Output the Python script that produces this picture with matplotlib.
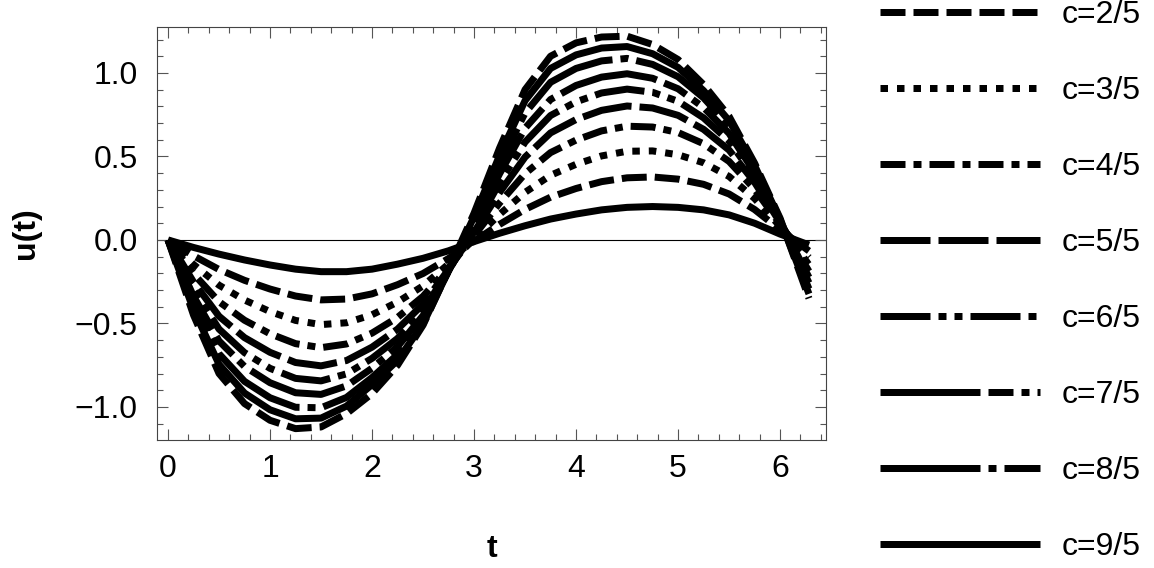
import matplotlib
matplotlib.use('Agg')
import matplotlib.pyplot as plt
from matplotlib.ticker import MultipleLocator

plt.rcParams['font.family'] = ['Liberation Sans', 'DejaVu Sans']
plt.rcParams['lines.scale_dashes'] = False

# sample times (last one is 2*pi)
t = [0, 0.25, 0.5, 0.75, 1.0, 1.25, 1.5, 1.75, 2.0, 2.25, 2.5, 2.75, 3.0,
     3.25, 3.5, 3.75, 4.0, 4.25, 4.5, 4.75, 5.0, 5.25, 5.5, 5.75, 6.0, 6.283]

u1 = [0, -0.045, -0.085, -0.12, -0.15, -0.175, -0.19, -0.19, -0.175, -0.145, -0.11, -0.065, -0.01,
      0.04, 0.085, 0.125, 0.155, 0.18, 0.195, 0.2, 0.195, 0.18, 0.15, 0.1, 0.035, -0.03]
u2 = [0, -0.095, -0.177, -0.242, -0.294, -0.336, -0.359, -0.354, -0.323, -0.268, -0.201, -0.111, -0.007,
      0.093, 0.183, 0.256, 0.308, 0.349, 0.372, 0.377, 0.364, 0.333, 0.275, 0.182, 0.061, -0.066]
u3 = [0, -0.147, -0.271, -0.360, -0.429, -0.482, -0.507, -0.496, -0.448, -0.372, -0.275, -0.144, 0.005,
      0.153, 0.285, 0.387, 0.453, 0.503, 0.531, 0.533, 0.510, 0.462, 0.380, 0.248, 0.081, -0.105]
u4 = [0, -0.203, -0.370, -0.481, -0.562, -0.621, -0.645, -0.623, -0.558, -0.464, -0.338, -0.166, 0.025,
      0.221, 0.397, 0.523, 0.598, 0.653, 0.681, 0.676, 0.643, 0.576, 0.470, 0.304, 0.095, -0.149]
u5 = [0, -0.252, -0.457, -0.585, -0.673, -0.734, -0.754, -0.722, -0.642, -0.534, -0.385, -0.177, 0.047,
      0.284, 0.496, 0.641, 0.721, 0.776, 0.802, 0.790, 0.746, 0.662, 0.538, 0.345, 0.104, -0.188]
u6 = [0, -0.297, -0.534, -0.675, -0.769, -0.829, -0.844, -0.802, -0.709, -0.590, -0.422, -0.183, 0.070,
      0.342, 0.586, 0.745, 0.827, 0.880, 0.903, 0.884, 0.830, 0.731, 0.592, 0.377, 0.110, -0.224]
u7 = [0, -0.337, -0.605, -0.758, -0.855, -0.915, -0.925, -0.874, -0.768, -0.639, -0.453, -0.187, 0.091,
      0.396, 0.669, 0.841, 0.925, 0.975, 0.995, 0.968, 0.905, 0.793, 0.638, 0.404, 0.115, -0.257]
u8 = [0, -0.382, -0.682, -0.847, -0.945, -1.002, -1.005, -0.943, -0.824, -0.686, -0.482, -0.186, 0.117,
      0.456, 0.760, 0.944, 1.027, 1.072, 1.087, 1.051, 0.977, 0.851, 0.682, 0.428, 0.120, -0.293]
u9 = [0, -0.418, -0.745, -0.917, -1.017, -1.071, -1.067, -0.995, -0.866, -0.721, -0.503, -0.184, 0.139,
      0.506, 0.834, 1.027, 1.108, 1.149, 1.158, 1.115, 1.033, 0.894, 0.714, 0.446, 0.122, -0.323]
u10 = [0, -0.45, -0.80, -0.98, -1.08, -1.13, -1.12, -1.04, -0.92, -0.75, -0.51, -0.18, 0.16,
       0.55, 0.90, 1.10, 1.18, 1.215, 1.22, 1.17, 1.08, 0.93, 0.74, 0.46, 0.13, -0.35]

curves = [u1, u2, u3, u4, u5, u6, u7, u8, u9, u10]
labels = [None, 'c=2/5', 'c=3/5', 'c=4/5', 'c=5/5', 'c=6/5', 'c=7/5', 'c=8/5', 'c=9/5', None]

# dash patterns in pixels (on, off, ...), None = solid
px = 0.72
dash_px = [None, [25, 8], [7.5, 9], [25, 8, 8, 8], [50, 8], [50, 8, 8, 8, 8, 8],
           [100, 8, 25, 8, 8, 8], [100, 8, 8, 8], None, [25, 8]]

yticks = [-1.0, -0.5, 0.0, 0.5, 1.0]
ytick_labels = ['\u22121.0', '\u22120.5', '0.0', '0.5', '1.0']
xticks = [0, 1, 2, 3, 4, 5, 6]

fs = 23

fig = plt.figure(figsize=(11.54, 5.68), dpi=100)
ax = fig.add_axes([157 / 1154, 1 - 440 / 568, (826 - 157) / 1154, (440 - 27) / 568])

lw = 7 * px
for u, lab, d in zip(curves, labels, dash_px):
    line, = ax.plot(t, u, color='black', lw=lw, label=lab,
                    solid_capstyle='butt', dash_capstyle='butt')
    if d is not None:
        line.set_dashes([v * px for v in d])

ax.axhline(0, color='black', lw=0.8, zorder=0.5)

ax.set_xlim(-0.108, 6.45)
ax.set_ylim(-1.198, 1.275)
ax.set_xticks(xticks)
ax.set_yticks(yticks)
ax.set_yticklabels(ytick_labels)
ax.xaxis.set_minor_locator(MultipleLocator(0.2))
ax.yaxis.set_minor_locator(MultipleLocator(0.1))
ax.tick_params(which='both', direction='in', top=True, right=True, color='#555555', width=0.8,
               labelsize=fs)
ax.tick_params(axis='x', pad=10)
ax.tick_params(axis='y', pad=14)
ax.tick_params(which='major', length=8)
ax.tick_params(which='minor', length=4.5)
for s in ax.spines.values():
    s.set_color('#444444')
    s.set_linewidth(0.8)

ax.set_xlabel('t', fontsize=fs, fontweight='bold', labelpad=36)
ax.set_ylabel('u(t)', fontsize=fs, fontweight='bold', labelpad=24)

handles, labs = ax.get_legend_handles_labels()
fig.legend(handles, labs, loc='upper left', bbox_to_anchor=(880 / 1154, 1.0),
           frameon=False, fontsize=fs, handlelength=160 / (fs / 0.72), handletextpad=0.68,
           labelspacing=1.44, borderpad=0, borderaxespad=0)

fig.savefig('out.png', dpi=100)
